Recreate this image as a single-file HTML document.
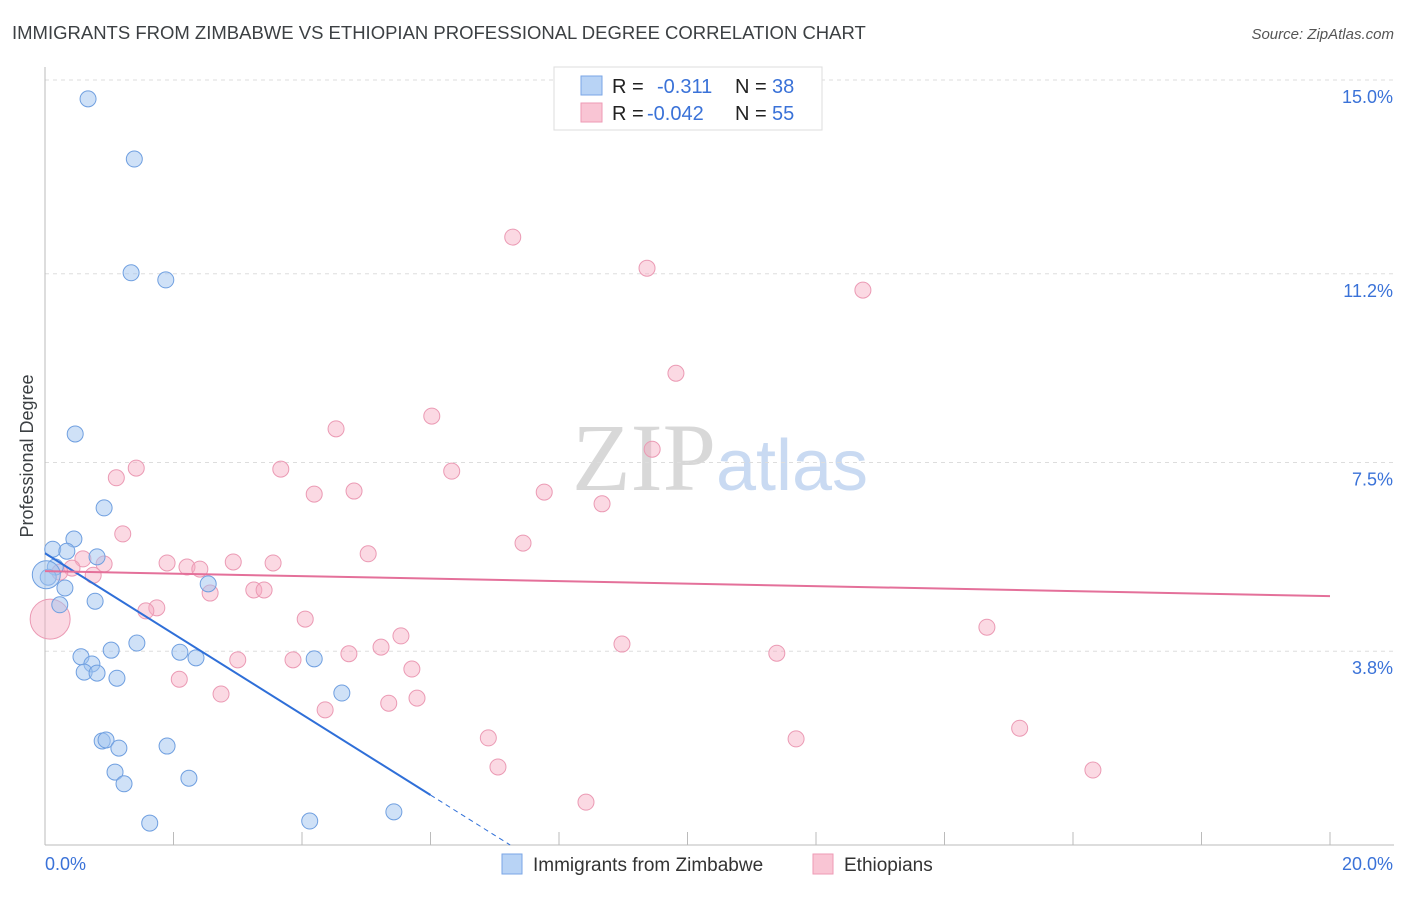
<!DOCTYPE html>
<html><head><meta charset="utf-8"><style>
body{margin:0;background:#fff;font-family:"Liberation Sans",sans-serif}
svg text{font-family:"Liberation Sans",sans-serif}
</style></head><body>
<svg id="chart" width="1406" height="892" xmlns="http://www.w3.org/2000/svg">
<text x="12" y="39" font-size="18.5" fill="#3c4043">IMMIGRANTS FROM ZIMBABWE VS ETHIOPIAN PROFESSIONAL DEGREE CORRELATION CHART</text>
<text x="1394" y="39" font-size="15" font-style="italic" fill="#555" text-anchor="end">Source: ZipAtlas.com</text>
<text x="720" y="490" font-size="96" text-anchor="middle"><tspan fill="#d8d8d8" font-family="Liberation Serif">ZIP</tspan><tspan fill="#c9daf2" font-size="72">atlas</tspan></text>
<g id="grid"></g>
<g id="axes"></g>
<g id="pinkPts"></g>
<g id="bluePts"></g>
<g id="trends"></g>
<text transform="translate(33,456) rotate(-90)" font-size="18" fill="#3c4043" text-anchor="middle">Professional Degree</text>
<g>
<rect x="554" y="67" width="268" height="63" fill="#fff" stroke="#ddd"/>
<rect x="581" y="76" width="21" height="19" fill="#b8d3f5" stroke="#7aa6e6"/>
<rect x="581" y="103" width="21" height="19" fill="#f9c5d4" stroke="#ee9ab5"/>
<text x="612" y="93" font-size="20" fill="#222">R =</text><text x="657" y="93" font-size="20" fill="#3a72d8">-0.311</text>
<text x="735" y="93" font-size="20" fill="#222">N =</text><text x="772" y="93" font-size="20" fill="#3a72d8">38</text>
<text x="612" y="120" font-size="20" fill="#222">R =</text><text x="647" y="120" font-size="20" fill="#3a72d8">-0.042</text>
<text x="735" y="120" font-size="20" fill="#222">N =</text><text x="772" y="120" font-size="20" fill="#3a72d8">55</text>
</g>
<g>
<rect x="502" y="854" width="20" height="20" fill="#b8d3f5" stroke="#7aa6e6"/>
<text x="533" y="871" font-size="19" fill="#333">Immigrants from Zimbabwe</text>
<rect x="813" y="854" width="20" height="20" fill="#f9c5d4" stroke="#ee9ab5"/>
<text x="844" y="871" font-size="19" fill="#333">Ethiopians</text>
</g>
</svg>
<script>
const yTicks=[15.0,11.2,7.5,3.8];
const yTickLabels=["15.0%","11.2%","7.5%","3.8%"];
const xTickLabels=["0.0%","20.0%"];
const blueX=[0.67,1.39,1.34,1.88,0.47,0.92,0.45,0.12,0.34,0.81,0.16,0.05,0.31,2.54,0.23,0.78,1.43,1.03,2.1,2.35,0.56,0.73,0.61,0.81,1.12,4.19,4.62,0.89,0.95,1.15,1.9,1.09,1.23,2.24,1.63,4.12,5.43,0.02];
const blueY=[14.63,13.45,11.22,11.08,8.06,6.61,6.0,5.8,5.76,5.65,5.45,5.25,5.04,5.12,4.71,4.78,3.96,3.82,3.78,3.67,3.69,3.55,3.39,3.37,3.27,3.65,2.98,2.04,2.06,1.9,1.94,1.43,1.2,1.31,0.43,0.47,0.65,5.3];
const pinkX=[7.28,9.37,12.73,9.82,6.02,4.53,9.45,1.42,1.11,3.67,6.33,4.81,4.19,7.77,8.67,1.21,7.44,5.03,0.59,0.92,1.9,2.93,3.55,2.21,2.41,0.42,0.23,0.75,3.25,3.41,2.57,1.74,1.57,4.05,14.66,5.54,8.98,5.23,4.73,11.39,3.0,3.86,5.71,2.09,2.74,5.79,5.35,4.36,15.17,6.9,11.69,7.05,16.31,8.42,0.08];
const pinkY=[11.92,11.31,10.88,9.25,8.41,8.16,7.76,7.39,7.2,7.37,7.33,6.94,6.88,6.92,6.69,6.1,5.92,5.71,5.61,5.51,5.53,5.55,5.53,5.45,5.41,5.43,5.35,5.29,5.0,5.0,4.94,4.65,4.59,4.43,4.27,4.1,3.94,3.88,3.75,3.76,3.63,3.63,3.45,3.25,2.96,2.88,2.78,2.65,2.29,2.1,2.08,1.53,1.47,0.84,4.43];
const blueTrend=[5.72,0.98]; // y at x=0 and x=6
const pinkTrend=[5.37,4.88]; // y at x=0 and x=20
const X=v=>45+v*64.25, Y=v=>80+(15-v)*51.0;
const NS="http://www.w3.org/2000/svg";
function mk(t,p,a){const e=document.createElementNS(NS,t);for(const k in a)e.setAttribute(k,a[k]);p.appendChild(e);return e;}
const grid=document.getElementById('grid'), axes=document.getElementById('axes');
yTicks.forEach((v,i)=>{
 const l=mk('line',grid,{x1:45,x2:1394,y1:Y(v),y2:Y(v),stroke:'#ddd','stroke-dasharray':'4,4'});
 
 
 const t=mk('text',axes,{x:1393,y:Y(v)+23,'font-size':18,fill:'#3a72d8','text-anchor':'end'});t.textContent=yTickLabels[i];
 
 
});
mk('line',axes,{x1:45,x2:45,y1:67,y2:845,stroke:'#bbb'});
mk('line',axes,{x1:45,x2:1394,y1:845,y2:845,stroke:'#bbb'});
for(let i=0;i<=10;i++){mk('line',axes,{x1:X(i*2),x2:X(i*2),y1:845,y2:832,stroke:'#bbb'});}
const xl0=mk('text',axes,{x:45,y:870,'font-size':18,fill:'#3a72d8'});xl0.textContent=xTickLabels[0];


const xl1=mk('text',axes,{x:1393,y:870,'font-size':18,fill:'#3a72d8','text-anchor':'end'});xl1.textContent=xTickLabels[1];


const pg=document.getElementById('pinkPts');
pinkX.forEach((x,i)=>{const r=(i===pinkX.length-1)?20:8;
 const c=mk('circle',pg,{cx:X(x),cy:Y(pinkY[i]),r:r,fill:'rgba(246,170,194,0.45)',stroke:'#eb9ab4','stroke-width':1});
 
 });
const bg=document.getElementById('bluePts');
blueX.forEach((x,i)=>{const r=(i===blueX.length-1)?14:8;
 const c=mk('circle',bg,{cx:X(x),cy:Y(blueY[i]),r:r,fill:'rgba(160,196,240,0.5)',stroke:'#6f9fe0','stroke-width':1});
 
 });
const tg=document.getElementById('trends');
const slope=(blueTrend[1]-blueTrend[0])/6, xz=-blueTrend[0]/slope;
const b1=mk('line',tg,{x1:X(0),y1:Y(blueTrend[0]),x2:X(6),y2:Y(blueTrend[1]),stroke:'#2f6fd8','stroke-width':2});


const b2=mk('line',tg,{x1:X(6),y1:Y(blueTrend[1]),x2:X(xz),y2:Y(0),stroke:'#2f6fd8','stroke-width':1,'stroke-dasharray':'5,4'});


const p1=mk('line',tg,{x1:X(0),y1:Y(pinkTrend[0]),x2:X(20),y2:Y(pinkTrend[1]),stroke:'#e4709a','stroke-width':2});


</script>
</body></html>
